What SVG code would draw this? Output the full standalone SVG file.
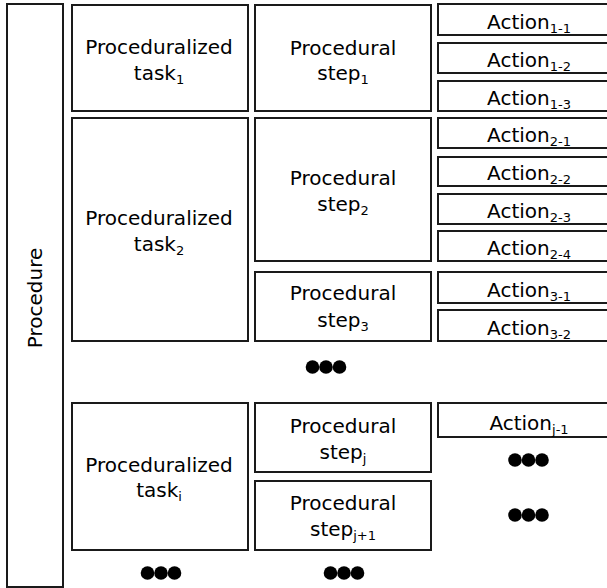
<svg xmlns="http://www.w3.org/2000/svg" width="607" height="588" viewBox="0 0 607 588">
<style>
.b{fill:#fff;stroke:#1a1a1a;stroke-width:2}
.t{font-family:"Comic Sans MS","DejaVu Sans",sans-serif;font-size:20px;fill:#000;text-anchor:middle}
.s{font-size:13px}
.d{fill:#000}
</style>
<rect width="607" height="588" fill="#fff"/>
<g id="procedure">
<rect class="b" x="7" y="4" width="56" height="583"/>
<text class="t" transform="translate(42,298) rotate(-90)">Procedure</text>
</g>
<g id="task1">
<rect class="b" x="72" y="5" width="176" height="106"/>
<text class="t" x="159" y="54">Proceduralized</text>
<text class="t" x="159" y="80">task<tspan class="s" dy="4">1</tspan></text>
</g>
<g id="task2">
<rect class="b" x="72" y="118" width="176" height="223"/>
<text class="t" x="159" y="225">Proceduralized</text>
<text class="t" x="159" y="251">task<tspan class="s" dy="4">2</tspan></text>
</g>
<g id="taski">
<rect class="b" x="72" y="403" width="176" height="147"/>
<text class="t" x="159" y="472">Proceduralized</text>
<text class="t" x="159" y="497">task<tspan class="s" dy="4">i</tspan></text>
</g>
<g id="step1">
<rect class="b" x="255" y="5" width="176" height="106"/>
<text class="t" x="343" y="55">Procedural</text>
<text class="t" x="343" y="80">step<tspan class="s" dy="4">1</tspan></text>
</g>
<g id="step2">
<rect class="b" x="255" y="118" width="176" height="143"/>
<text class="t" x="343" y="185">Procedural</text>
<text class="t" x="343" y="211">step<tspan class="s" dy="4">2</tspan></text>
</g>
<g id="step3">
<rect class="b" x="255" y="272" width="176" height="69"/>
<text class="t" x="343" y="300">Procedural</text>
<text class="t" x="343" y="327">step<tspan class="s" dy="4">3</tspan></text>
</g>
<g id="stepj">
<rect class="b" x="255" y="403" width="176" height="69"/>
<text class="t" x="343" y="433">Procedural</text>
<text class="t" x="343" y="459">step<tspan class="s" dy="4">j</tspan></text>
</g>
<g id="stepj1">
<rect class="b" x="255" y="481" width="176" height="69"/>
<text class="t" x="343" y="510">Procedural</text>
<text class="t" x="343" y="536">step<tspan class="s" dy="4">j+1</tspan></text>
</g>
<g id="a11"><rect class="b" x="438" y="4" width="190" height="31"/><text class="t" x="529" y="29">Action<tspan class="s" dy="4">1-1</tspan></text></g>
<g id="a12"><rect class="b" x="438" y="43" width="190" height="30"/><text class="t" x="529" y="67">Action<tspan class="s" dy="4">1-2</tspan></text></g>
<g id="a13"><rect class="b" x="438" y="81" width="190" height="30"/><text class="t" x="529" y="105">Action<tspan class="s" dy="4">1-3</tspan></text></g>
<g id="a21"><rect class="b" x="438" y="118" width="190" height="30"/><text class="t" x="529" y="142">Action<tspan class="s" dy="4">2-1</tspan></text></g>
<g id="a22"><rect class="b" x="438" y="157" width="190" height="29"/><text class="t" x="529" y="180">Action<tspan class="s" dy="4">2-2</tspan></text></g>
<g id="a23"><rect class="b" x="438" y="194" width="190" height="30"/><text class="t" x="529" y="218">Action<tspan class="s" dy="4">2-3</tspan></text></g>
<g id="a24"><rect class="b" x="438" y="231" width="190" height="30"/><text class="t" x="529" y="255">Action<tspan class="s" dy="4">2-4</tspan></text></g>
<g id="a31"><rect class="b" x="438" y="272" width="190" height="31"/><text class="t" x="529" y="297">Action<tspan class="s" dy="4">3-1</tspan></text></g>
<g id="a32"><rect class="b" x="438" y="310" width="190" height="31"/><text class="t" x="529" y="335">Action<tspan class="s" dy="4">3-2</tspan></text></g>
<g id="aj1"><rect class="b" x="438" y="403" width="190" height="34"/><text class="t" x="529" y="430">Action<tspan class="s" dy="4">j-1</tspan></text></g>
<g id="connectors"></g>
<g id="ellipses" class="d">
<circle cx="312.5" cy="367" r="6.8"/><circle cx="326" cy="367" r="6.8"/><circle cx="339.5" cy="367" r="6.8"/>
<circle cx="515" cy="460" r="6.8"/><circle cx="528.5" cy="460" r="6.8"/><circle cx="542" cy="460" r="6.8"/>
<circle cx="515" cy="515" r="6.8"/><circle cx="528.5" cy="515" r="6.8"/><circle cx="542" cy="515" r="6.8"/>
<circle cx="330.5" cy="573" r="6.8"/><circle cx="344" cy="573" r="6.8"/><circle cx="357.5" cy="573" r="6.8"/>
<circle cx="147.5" cy="573" r="6.8"/><circle cx="161" cy="573" r="6.8"/><circle cx="174.5" cy="573" r="6.8"/>
</g>
</svg>
